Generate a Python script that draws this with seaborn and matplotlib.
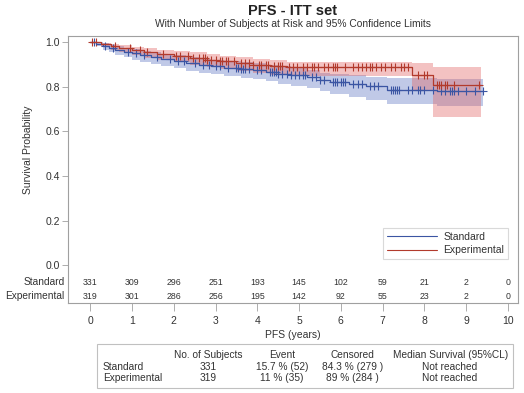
import numpy as np
import matplotlib
matplotlib.use('Agg')
import matplotlib.pyplot as plt
import seaborn as sns
from matplotlib.patches import Rectangle

# Kaplan-Meier step values (time in years, survival)
std_time = [0, 0.15, 0.3, 0.45, 0.6, 0.8, 1.0, 1.2, 1.45, 1.7, 2.0, 2.3, 2.6, 2.9, 3.2, 3.6,
            3.9, 4.2, 4.5, 4.8, 5.2, 5.5, 5.75, 6.2, 6.6, 7.1, 8.3, 9.4]
std_surv = [1.0, 0.994, 0.985, 0.976, 0.966, 0.958, 0.950, 0.941, 0.932, 0.925, 0.917, 0.907,
            0.899, 0.892, 0.886, 0.880, 0.876, 0.866, 0.858, 0.851, 0.842, 0.830, 0.820, 0.812,
            0.802, 0.786, 0.782, 0.782]
std_lo = [1.0, 0.982, 0.967, 0.955, 0.943, 0.932, 0.922, 0.911, 0.900, 0.892, 0.883, 0.871,
          0.862, 0.855, 0.848, 0.841, 0.836, 0.824, 0.814, 0.805, 0.794, 0.779, 0.766, 0.755,
          0.741, 0.722, 0.712, 0.712]
std_hi = [1.0, 1.0, 0.995, 0.989, 0.981, 0.975, 0.969, 0.962, 0.954, 0.948, 0.942, 0.933,
          0.926, 0.920, 0.915, 0.910, 0.907, 0.899, 0.892, 0.886, 0.873, 0.863, 0.856, 0.851,
          0.846, 0.839, 0.836, 0.836]

exp_time = [0, 0.25, 0.5, 0.7, 1.0, 1.3, 1.6, 2.0, 2.4, 2.8, 3.1, 3.5, 3.9, 4.3, 4.7, 7.7, 8.2, 9.35]
exp_surv = [1.0, 0.992, 0.983, 0.975, 0.966, 0.956, 0.948, 0.940, 0.931, 0.922, 0.914, 0.906,
            0.899, 0.893, 0.888, 0.852, 0.808, 0.808]
exp_lo = [1.0, 0.978, 0.965, 0.954, 0.942, 0.930, 0.920, 0.910, 0.899, 0.888, 0.878, 0.869,
          0.860, 0.853, 0.848, 0.780, 0.664, 0.664]
exp_hi = [1.0, 0.998, 0.992, 0.987, 0.980, 0.973, 0.967, 0.961, 0.954, 0.947, 0.940, 0.933,
          0.926, 0.920, 0.912, 0.906, 0.890, 0.890]

# censoring times
std_cens = [0.1, 0.35, 0.55, 0.9, 1.1, 1.3, 1.6, 1.9, 2.1, 2.25, 2.5, 2.7, 2.85, 3.0, 3.1, 3.3,
            3.5, 3.55, 3.6, 3.65, 3.7, 3.8, 4.0, 4.1, 4.3, 4.35, 4.4, 4.45, 4.5, 4.6, 4.7, 4.8,
            4.9, 5.0, 5.1, 5.15, 5.3, 5.4, 5.5, 5.6, 5.8, 5.85, 5.9, 6.0, 6.05, 6.1, 6.3, 6.4,
            6.5, 6.7, 6.8, 6.9, 7.2, 7.25, 7.3, 7.35, 7.4, 7.6, 7.7, 7.85, 7.9, 8.0, 8.2, 8.4,
            8.5, 8.6, 8.65, 8.7, 8.8, 9.0, 9.2, 9.4]
exp_cens = [0.05, 0.15, 0.6, 0.95, 1.2, 1.35, 1.75, 2.05, 2.15, 2.35, 2.45, 2.6, 2.7, 2.75, 2.8,
            2.9, 3.0, 3.1, 3.15, 3.25, 3.3, 3.45, 3.6, 3.7, 3.8, 3.9, 4.05, 4.1, 4.2, 4.25, 4.4,
            4.5, 4.55, 4.6, 4.75, 4.85, 4.95, 5.1, 5.2, 5.3, 5.35, 5.45, 5.6, 5.7, 5.8, 5.85,
            5.9, 6.1, 6.3, 6.4, 6.5, 6.6, 6.7, 6.75, 6.85, 6.95, 7.05, 7.2, 7.3, 7.45, 7.5, 7.6,
            7.85, 8.0, 8.05, 8.3, 8.35, 8.4, 8.5, 8.55, 8.7, 9.3]

# numbers at risk
risk_times = [0, 1, 2, 3, 4, 5, 6, 7, 8, 9, 10]
std_risk = [331, 309, 296, 251, 193, 145, 102, 59, 21, 2, 0]
exp_risk = [319, 301, 286, 256, 195, 142, 92, 55, 23, 2, 0]

# summary table
table_cols = ['No. of Subjects', 'Event', 'Censored', 'Median Survival (95%CL)']
table_rows = ['Standard', 'Experimental']
table_vals = [['331', '15.7 % (52)', '84.3 % (279 )', 'Not reached'],
              ['319', '11 % (35)', '89 % (284 )', 'Not reached']]

sns.set_style('white')
plt.rcParams['font.family'] = ['Liberation Sans', 'DejaVu Sans']

blue = '#3B55A3'
red = '#B23A2C'
grey = '#A0A0A0'
txt = '#333333'

fig = plt.figure(figsize=(5.24, 3.93), dpi=100)
ax = fig.add_axes([0.1298, 0.229, 0.8588, 0.679])

groups = [('Standard', std_time, std_surv, std_lo, std_hi, std_cens, blue, '#6A7FC8', 0.42),
          ('Experimental', exp_time, exp_surv, exp_lo, exp_hi, exp_cens, red, '#E06060', 0.38)]

for name, t, s, lo, hi, cens, col, fcol, a in groups:
    ax.fill_between(t, lo, hi, step='post', color=fcol, alpha=a, linewidth=0)

for name, t, s, lo, hi, cens, col, fcol, a in groups:
    sns.lineplot(x=t, y=s, drawstyle='steps-post', color=col, linewidth=0.9,
                 estimator=None, sort=False, ax=ax, label=name)
    idx = np.searchsorted(t, cens, side='right') - 1
    ys = np.array(s)[idx]
    sns.scatterplot(x=cens, y=ys, marker='+', s=30, color=col, linewidth=0.8, ax=ax)

ax.set_xlim(-0.53, 10.24)
ax.set_ylim(-0.17, 1.027)
ax.set_xticks(risk_times)
ax.set_yticks([0, 0.2, 0.4, 0.6, 0.8, 1.0])
ax.set_yticklabels(['0.0', '0.2', '0.4', '0.6', '0.8', '1.0'])
ax.tick_params(axis='both', colors=grey, labelcolor=txt, labelsize=7.5, direction='out',
               bottom=True, left=True)
ax.tick_params(axis='x', length=6, width=0.6, pad=3)
ax.tick_params(axis='y', length=4, width=0.6, pad=2)
for sp in ax.spines.values():
    sp.set_color(grey)
    sp.set_linewidth(0.8)
ax.set_ylabel('Survival Probability', fontsize=7.5, color=txt)
ax.yaxis.set_label_coords(-0.078, 0.573)
ax.set_xlabel('PFS (years)', fontsize=7.5, color=txt, labelpad=3)

# at-risk rows inside the frame
for row_y, name, vals in [(-0.078, 'Standard', std_risk), (-0.14, 'Experimental', exp_risk)]:
    for x, v in zip(risk_times, vals):
        ax.text(x, row_y, str(v), ha='center', va='center', fontsize=6.3, color=txt)
    ax.text(-0.008, row_y, name, ha='right', va='center', fontsize=7.3, color=txt,
            transform=ax.get_yaxis_transform())

leg = ax.legend(loc='lower right', bbox_to_anchor=(0.989, 0.146), fontsize=7.5,
                frameon=True, fancybox=False, handlelength=4.8, borderpad=0.35,
                labelspacing=0.3, handletextpad=0.6)
leg.get_frame().set_edgecolor('#D0D0D0')
leg.get_frame().set_linewidth(0.8)
for line in leg.get_lines():
    line.set_linewidth(0.8)
for t in leg.get_texts():
    t.set_color(txt)

fig.text(0.559, 0.972, 'PFS - ITT set', ha='center', va='center', fontsize=10.5,
         fontweight='bold', color='#222222')
fig.text(0.559, 0.940, 'With Number of Subjects at Risk and 95% Confidence Limits',
         ha='center', va='center', fontsize=7.4, color=txt)

# summary table below the plot
fig.patches.append(Rectangle((0.185, 0.0127), 0.794, 0.112, transform=fig.transFigure,
                             fill=False, edgecolor='#C0C0C0', linewidth=0.8))
col_x = [0.397, 0.538, 0.673, 0.859]
for x, c in zip(col_x, table_cols):
    fig.text(x, 0.097, c, ha='center', va='center', fontsize=7.3, color=txt)
for r, (name, vals) in enumerate(zip(table_rows, table_vals)):
    y = 0.066 - r * 0.029
    fig.text(0.196, y, name, ha='left', va='center', fontsize=7.3, color=txt)
    for x, v in zip(col_x, vals):
        fig.text(x, y, v, ha='center', va='center', fontsize=7.3, color=txt)

fig.savefig('out.png', dpi=100)
